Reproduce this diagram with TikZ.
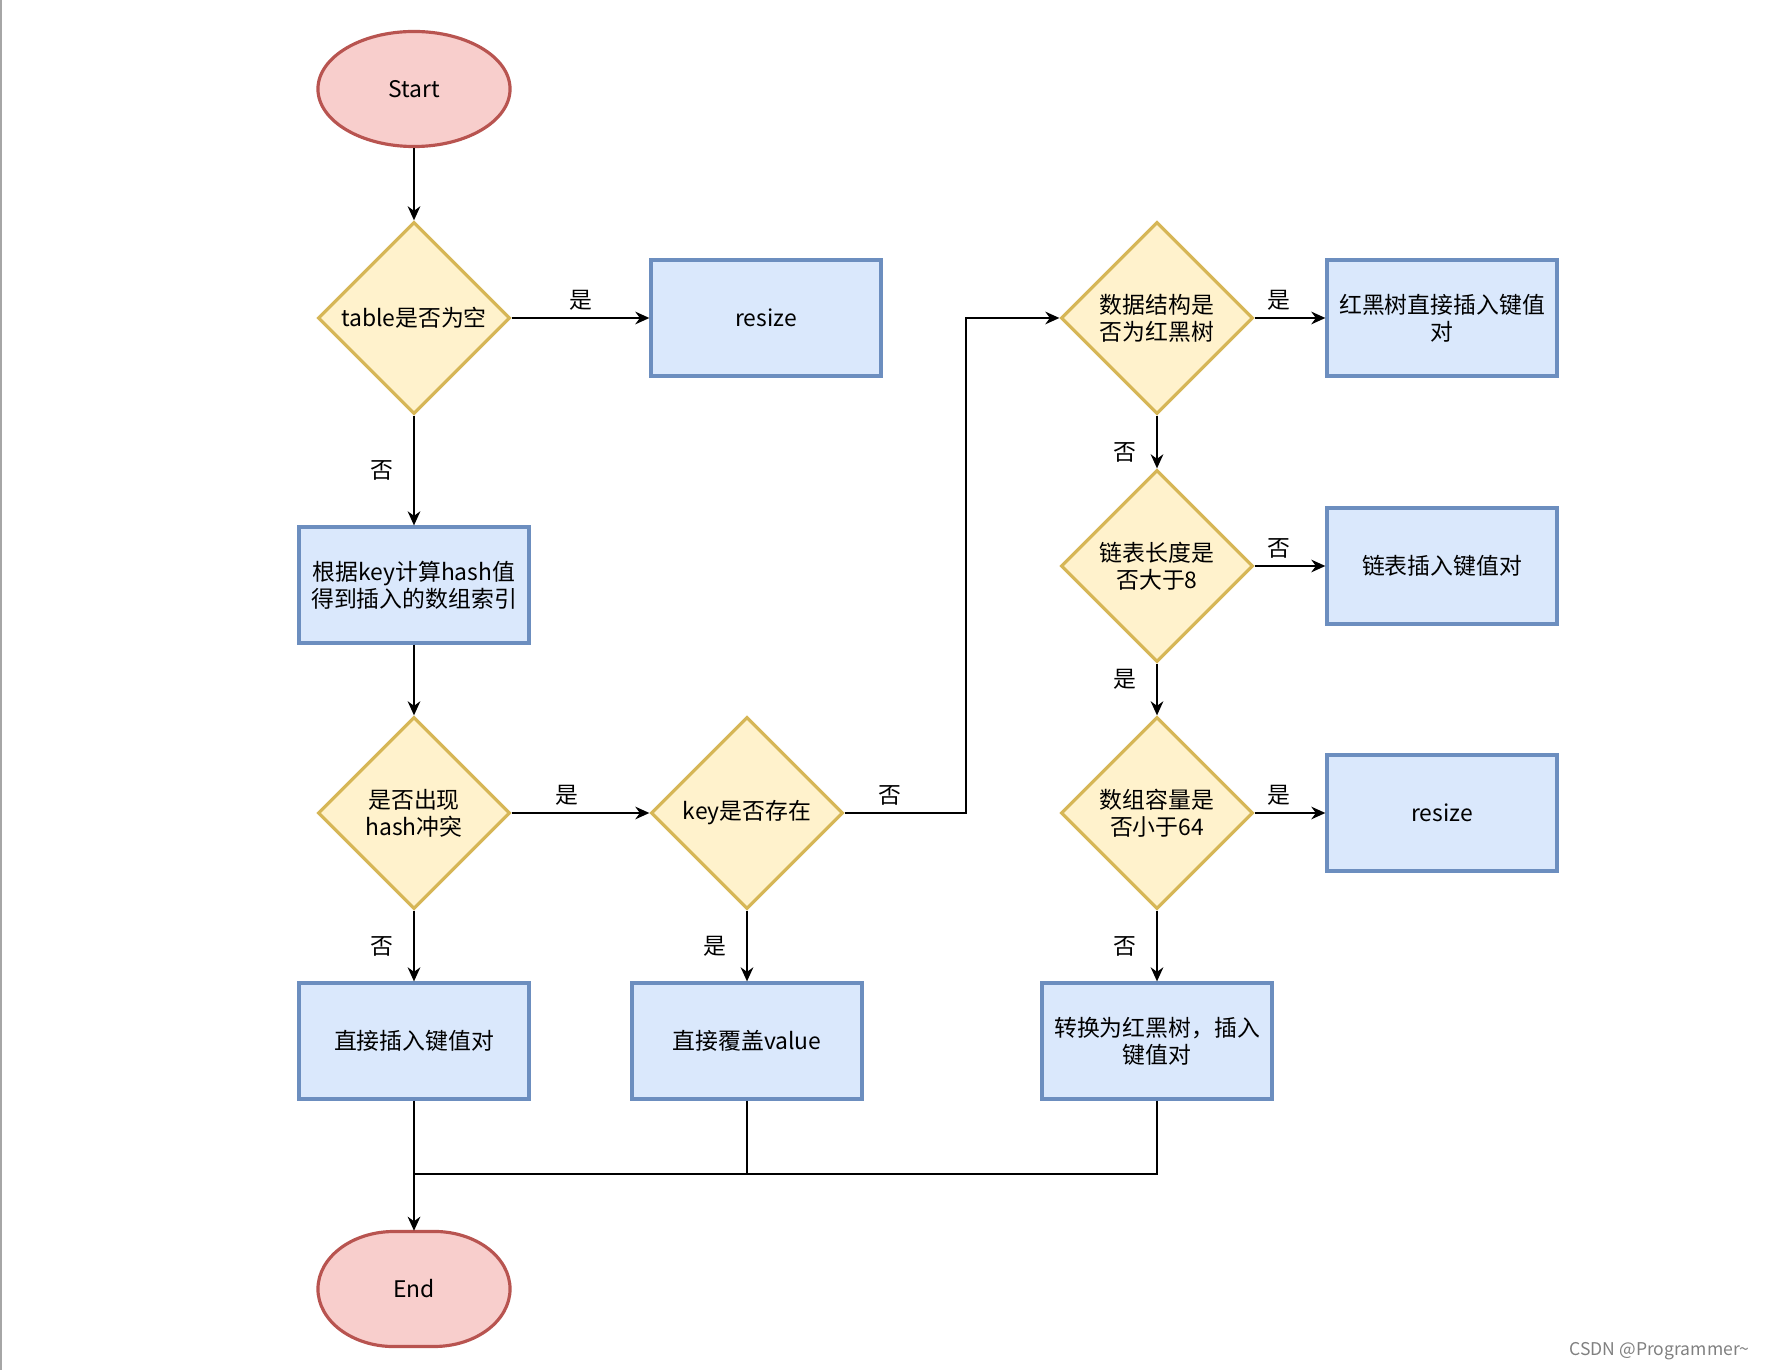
\documentclass[tikz,border=0pt]{standalone}
\usepackage{fontspec}
\setmainfont{Noto Sans CJK SC}
\usetikzlibrary{shapes.geometric,arrows.meta}

\definecolor{termfill}{HTML}{F8CECC}
\definecolor{termline}{HTML}{B85450}
\definecolor{decfill}{HTML}{FFF2CC}
\definecolor{decline}{HTML}{D6B656}
\definecolor{procfill}{HTML}{DAE8FC}
\definecolor{procline}{HTML}{6C8EBF}

\begin{document}
\begin{tikzpicture}[x=0.01cm, y=-0.01cm, font=\fontsize{6.5}{7.6}\selectfont,
  term/.style={ellipse, draw=termline, fill=termfill, line width=0.9pt, minimum width=1.92cm, minimum height=1.15cm, inner sep=0pt},
  dec/.style={diamond, draw=decline, fill=decfill, line width=0.9pt, minimum width=1.92cm, minimum height=1.92cm, inner sep=0pt, align=center},
  proc/.style={rectangle, draw=procline, fill=procfill, line width=0.9pt, minimum width=2.3cm, minimum height=1.16cm, inner sep=1pt, align=center},
  arr/.style={-{Stealth[length=4pt,width=3.6pt]}, line width=0.6pt},
  lbl/.style={inner sep=0pt}]
\useasboundingbox (0,0) rectangle (1775,1370);
\draw[gray!70, line width=0.6pt] (1,0) -- (1,1370);

% left column
\node[term] (start) at (414,89) {Start};
\node[dec] (empty) at (414,318) {table是否为空};
\node[proc] (resize1) at (766,318) {resize};
\node[proc] (index) at (414,585) {根据key计算hash值\\得到插入的数组索引};
\node[dec] (clash) at (414,813) {是否出现\\hash冲突};
\node[proc] (insert) at (414,1041) {直接插入键值对};
% terminator outline for End
\draw[termline, fill=termfill, line width=0.9pt] (394,1231.5)
  arc[start angle=90, end angle=270, x radius=0.76cm, y radius=0.575cm] -- (434,1346.5)
  arc[start angle=-90, end angle=90, x radius=0.76cm, y radius=0.575cm] -- cycle;
\node[minimum width=1.92cm, minimum height=1.15cm, inner sep=0pt] (end) at (414,1289) {End};

% middle column
\node[dec] (haskey) at (747,813) {key是否存在};
\node[proc] (cover) at (747,1041) {直接覆盖value};

% right column
\node[dec] (tree) at (1157,318) {数据结构是\\否为红黑树};
\node[proc] (treeins) at (1442,318) {红黑树直接插入键值\\对};
\node[dec] (len) at (1157,566) {链表长度是\\否大于8};
\node[proc] (listins) at (1442,566) {链表插入键值对};
\node[dec] (cap) at (1157,813) {数组容量是\\否小于64};
\node[proc] (resize2) at (1442,813) {resize};
\node[proc] (convert) at (1157,1041) {转换为红黑树，插入\\键值对};

\coordinate (bend) at (966,813);
\coordinate (merge) at (414,1174);

\draw[arr] (start) -- (empty);
\draw[arr] (empty) -- node[lbl, above=0.07cm] {是} (resize1);
\draw[arr] (empty) -- node[lbl, left=0.2cm] {否} (index);
\draw[arr] (index) -- (clash);
\draw[arr] (clash) -- node[lbl, above=0.07cm, pos=0.4] {是} (haskey);
\draw[arr] (clash) -- node[lbl, left=0.2cm] {否} (insert);
\draw[arr] (haskey) -- node[lbl, left=0.2cm] {是} (cover);
\draw[arr] (haskey.east) -- node[lbl, above=0.07cm, pos=0.37] {否} (bend) |- (tree.west);
\draw[arr] (tree) -- node[lbl, above=0.07cm, pos=0.35] {是} (treeins);
\draw[arr] (tree) -- node[lbl, left=0.2cm, pos=0.7] {否} (len);
\draw[arr] (len) -- node[lbl, above=0.07cm, pos=0.35] {否} (listins);
\draw[arr] (len) -- node[lbl, left=0.2cm, pos=0.3] {是} (cap);
\draw[arr] (cap) -- node[lbl, above=0.07cm, pos=0.35] {是} (resize2);
\draw[arr] (cap) -- node[lbl, left=0.2cm] {否} (convert);
\draw[line width=0.6pt] (insert) -- (merge);
\draw[line width=0.6pt] (cover) |- (merge);
\draw[line width=0.6pt] (convert) |- (merge);
\draw[arr] (merge) -- (end);

\node[font=\fontsize{5}{6}\selectfont, text=gray, anchor=east] (mark) at (1762,1351) {CSDN @Programmer\textasciitilde};
\end{tikzpicture}
\end{document}
